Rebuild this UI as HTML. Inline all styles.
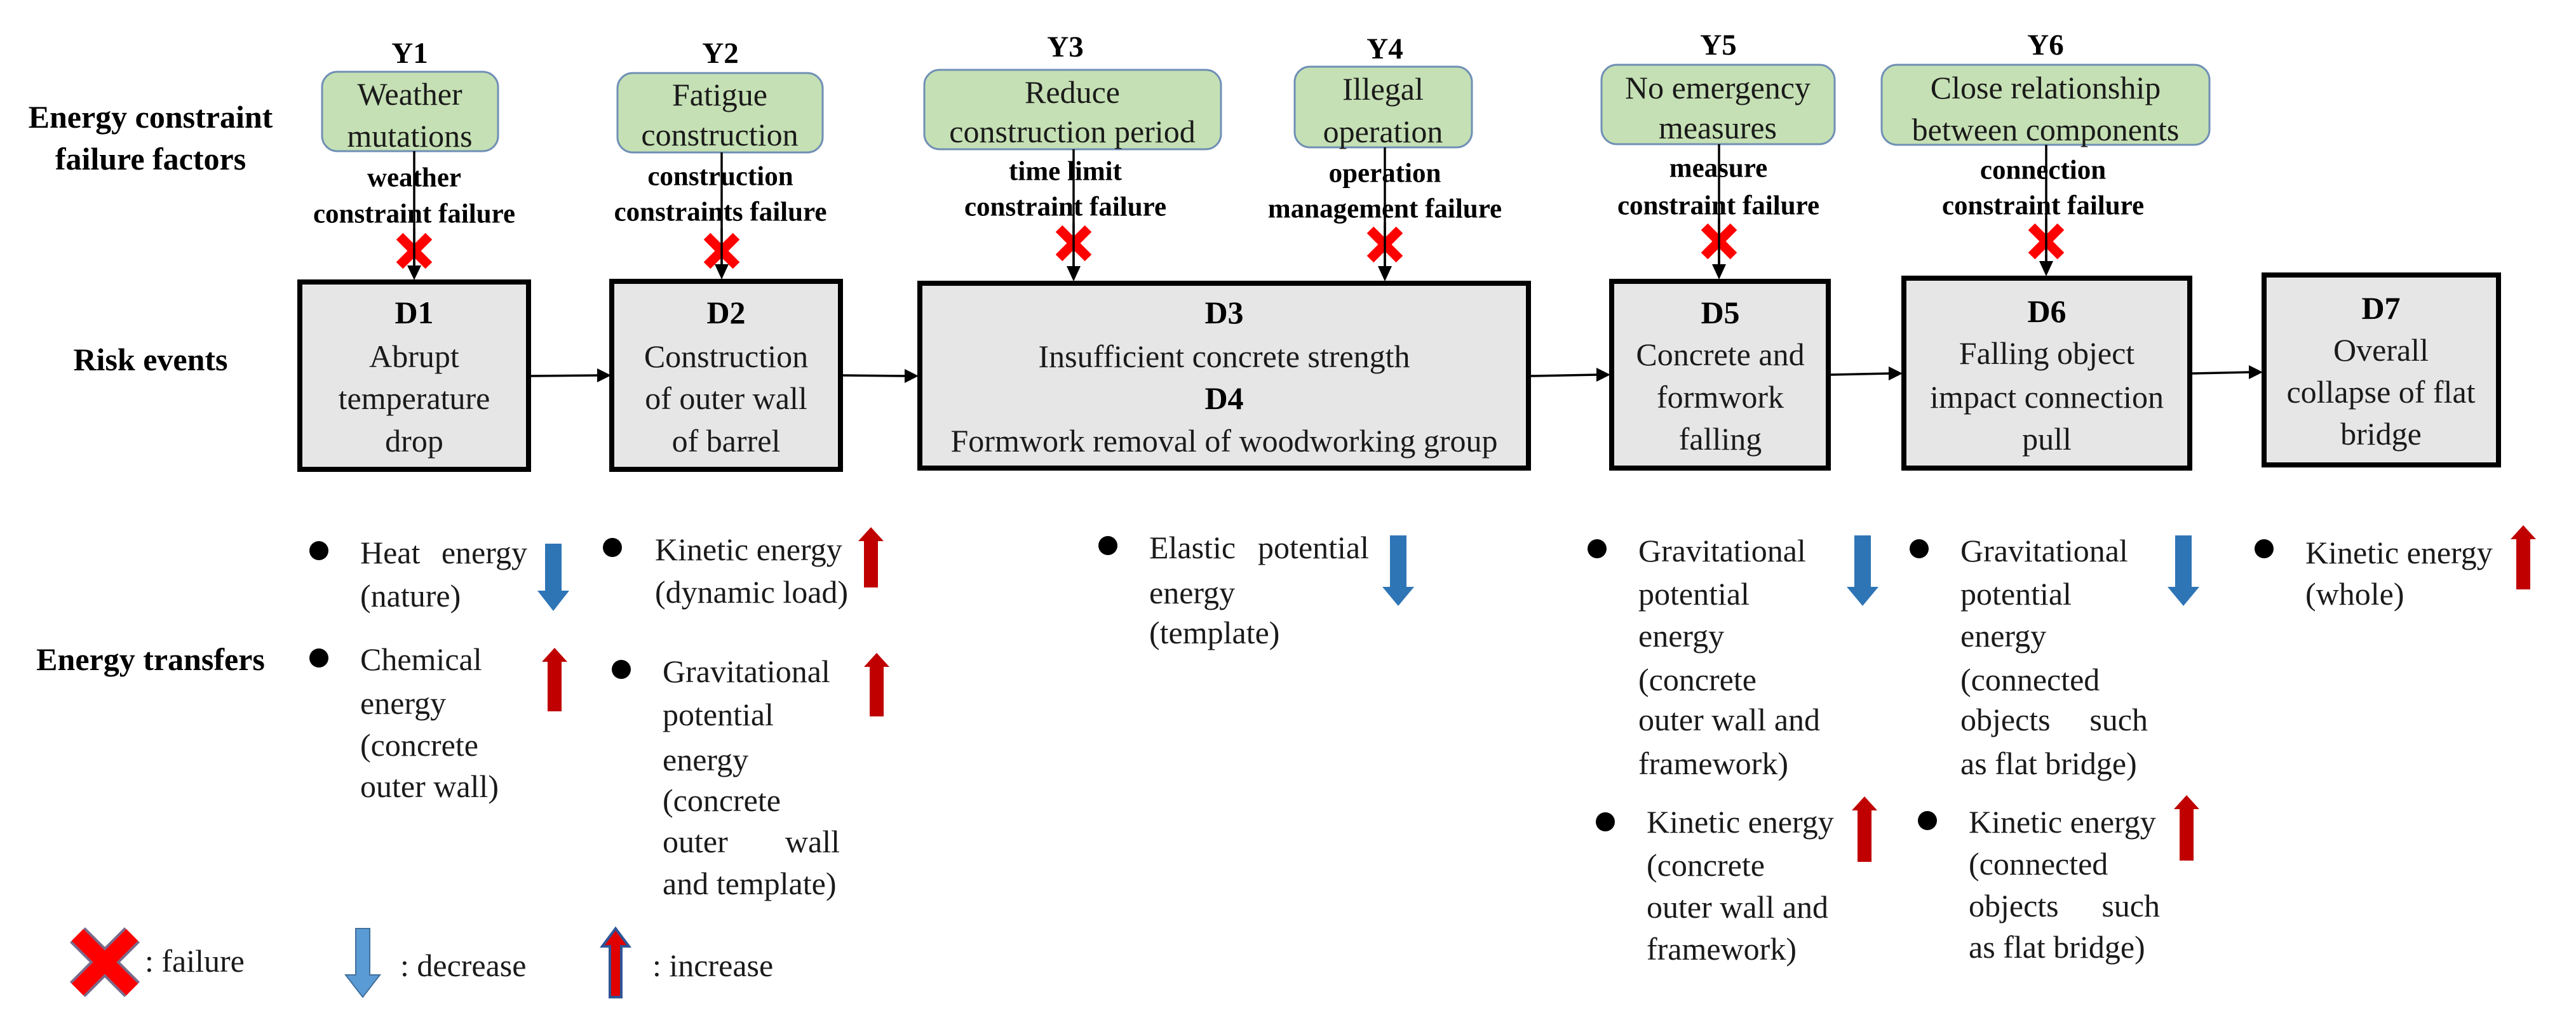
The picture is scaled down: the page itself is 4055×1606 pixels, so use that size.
<!DOCTYPE html>
<html><head><meta charset="utf-8"><style>
html,body{margin:0;padding:0;background:#fff;}
svg{display:block;}
.t{font-family:"Liberation Serif",serif;font-size:50px;fill:#1a1a1a;dominant-baseline:central;}
.c{text-anchor:middle;}
.b{font-family:"Liberation Serif",serif;font-weight:bold;fill:#000;dominant-baseline:central;}
.lab{font-size:50px;}
.al{font-size:43px;text-anchor:middle;}
.y{font-size:47px;text-anchor:middle;}
.g{fill:#c5e0b4;stroke:#6f8fb5;stroke-width:3;}
.d{fill:#e6e6e6;stroke:#000;stroke-width:8;}
.ln{stroke:#000;stroke-width:3.5;fill:none;}
.xr{stroke:#ff0000;stroke-width:15;}
.blue{fill:#2e75b6;}
.red{fill:#c00000;}
</style></head><body>
<svg width="4055" height="1606" viewBox="0 0 4055 1606" xmlns="http://www.w3.org/2000/svg">
<defs>
<marker id="ah" markerWidth="10" markerHeight="10" refX="9" refY="5" orient="auto" markerUnits="userSpaceOnUse" viewBox="0 0 10 10">
</marker>
</defs>

<!-- left labels -->
<text class="b lab c" x="237" y="184">Energy constraint</text>
<text class="b lab c" x="237" y="250">failure factors</text>
<text class="b lab c" x="237" y="566">Risk events</text>
<text class="b lab c" x="237" y="1038">Energy transfers</text>

<!-- Y labels -->
<text class="b y" x="645" y="84">Y1</text>
<text class="b y" x="1134" y="84">Y2</text>
<text class="b y" x="1677" y="74">Y3</text>
<text class="b y" x="2180" y="77">Y4</text>
<text class="b y" x="2705" y="71">Y5</text>
<text class="b y" x="3220" y="71">Y6</text>

<!-- green boxes -->
<rect class="g" x="507" y="113" width="277" height="125" rx="24"/>
<rect class="g" x="972" y="115" width="323" height="125" rx="24"/>
<rect class="g" x="1455" y="110" width="467" height="125" rx="24"/>
<rect class="g" x="2038" y="105" width="279" height="127" rx="24"/>
<rect class="g" x="2521" y="102" width="367" height="125" rx="24"/>
<rect class="g" x="2962" y="102" width="516" height="126" rx="24"/>
<g class="t c" style="fill:#333">
<text class="t c" x="645" y="148">Weather</text>
<text class="t c" x="645" y="214">mutations</text>
<text class="t c" x="1133" y="149">Fatigue</text>
<text class="t c" x="1133" y="212">construction</text>
<text class="t c" x="1688" y="145">Reduce</text>
<text class="t c" x="1688" y="207">construction  period</text>
<text class="t c" x="2177" y="140">Illegal</text>
<text class="t c" x="2177" y="207">operation</text>
<text class="t c" x="2704" y="138">No emergency</text>
<text class="t c" x="2704" y="201">measures</text>
<text class="t c" x="3220" y="138">Close relationship</text>
<text class="t c" x="3220" y="204">between  components</text>
</g>

<!-- vertical arrows -->
<g>
<line class="ln" x1="652" y1="238" x2="652" y2="420"/><polygon points="641,418 663,418 652,441"/>
<line class="ln" x1="1136" y1="240" x2="1136" y2="418"/><polygon points="1125,416 1147,416 1136,440"/>
<line class="ln" x1="1690" y1="235" x2="1690" y2="420"/><polygon points="1679,419 1701,419 1690,443"/>
<line class="ln" x1="2180" y1="232" x2="2180" y2="420"/><polygon points="2169,419 2191,419 2180,443"/>
<line class="ln" x1="2706" y1="227" x2="2706" y2="418"/><polygon points="2695,416 2717,416 2706,440"/>
<line class="ln" x1="3221" y1="228" x2="3221" y2="413"/><polygon points="3210,411 3232,411 3221,435"/>
</g>

<!-- arrow labels -->
<text class="b al" x="652" y="280">weather</text>
<text class="b al" x="652" y="337">constraint failure</text>
<text class="b al" x="1134" y="278">construction</text>
<text class="b al" x="1134" y="334">constraints failure</text>
<text class="b al" x="1677" y="270">time limit</text>
<text class="b al" x="1677" y="326">constraint failure</text>
<text class="b al" x="2180" y="273">operation</text>
<text class="b al" x="2180" y="329">management failure</text>
<text class="b al" x="2705" y="265">measure</text>
<text class="b al" x="2705" y="324">constraint failure</text>
<text class="b al" x="3216" y="268">connection</text>
<text class="b al" x="3216" y="324">constraint failure</text>

<!-- red X marks -->
<g class="xr">
<path d="M629,372 L675,418 M675,372 L629,418"/>
<path d="M1113,372 L1159,418 M1159,372 L1113,418"/>
<path d="M1667,360 L1713,406 M1713,360 L1667,406"/>
<path d="M2157,362 L2203,408 M2203,362 L2157,408"/>
<path d="M2683,357 L2729,403 M2729,357 L2683,403"/>
<path d="M3198,357 L3244,403 M3244,357 L3198,403"/>
</g>
<!-- redraw lines over X -->
<line class="ln" x1="652" y1="360" x2="652" y2="420"/>
<line class="ln" x1="1136" y1="360" x2="1136" y2="418"/>
<line class="ln" x1="1690" y1="350" x2="1690" y2="420"/>
<line class="ln" x1="2180" y1="350" x2="2180" y2="420"/>
<line class="ln" x1="2706" y1="345" x2="2706" y2="418"/>
<line class="ln" x1="3221" y1="345" x2="3221" y2="413"/>

<!-- D boxes -->
<rect class="d" x="472" y="444" width="360" height="295"/>
<rect class="d" x="963" y="443" width="360" height="296"/>
<rect class="d" x="1448" y="446" width="958" height="291"/>
<rect class="d" x="2537" y="443" width="341" height="294"/>
<rect class="d" x="2997" y="438" width="450" height="299"/>
<rect class="d" x="3564" y="433" width="369" height="299"/>

<text class="b c" style="font-size:50px" x="652" y="492">D1</text>
<text class="t c" x="652" y="561">Abrupt</text>
<text class="t c" x="652" y="627">temperature</text>
<text class="t c" x="652" y="694">drop</text>

<text class="b c" style="font-size:50px" x="1143" y="492">D2</text>
<text class="t c" x="1143" y="561">Construction</text>
<text class="t c" x="1143" y="627">of outer wall</text>
<text class="t c" x="1143" y="694">of barrel</text>

<text class="b c" style="font-size:50px" x="1927" y="492">D3</text>
<text class="t c" x="1927" y="561">Insufficient  concrete  strength</text>
<text class="b c" style="font-size:50px" x="1927" y="627">D4</text>
<text class="t c" x="1927" y="694">Formwork  removal  of woodworking  group</text>

<text class="b c" style="font-size:50px" x="2708" y="492">D5</text>
<text class="t c" x="2708" y="558">Concrete  and</text>
<text class="t c" x="2708" y="625">formwork</text>
<text class="t c" x="2708" y="691">falling</text>

<text class="b c" style="font-size:50px" x="3222" y="490">D6</text>
<text class="t c" x="3222" y="556">Falling object</text>
<text class="t c" x="3222" y="625">impact  connection</text>
<text class="t c" x="3222" y="691">pull</text>

<text class="b c" style="font-size:50px" x="3748" y="485">D7</text>
<text class="t c" x="3748" y="551">Overall</text>
<text class="t c" x="3748" y="617">collapse  of flat</text>
<text class="t c" x="3748" y="683">bridge</text>

<!-- horizontal arrows -->
<line class="ln" x1="836" y1="592" x2="942" y2="591"/><polygon points="940,580 962,591 940,602"/>
<line class="ln" x1="1327" y1="591" x2="1426" y2="592"/><polygon points="1424,581 1446,592 1424,603"/>
<line class="ln" x1="2410" y1="592" x2="2515" y2="590"/><polygon points="2513,579 2535,590 2513,601"/>
<line class="ln" x1="2882" y1="590" x2="2975" y2="588"/><polygon points="2973,577 2995,588 2973,599"/>
<line class="ln" x1="3451" y1="588" x2="3542" y2="586"/><polygon points="3540,575 3562,586 3540,597"/>

<!-- energy transfer bullets -->
<g fill="#000">
<circle cx="502" cy="867" r="15"/>
<circle cx="502" cy="1036" r="15"/>
<circle cx="964" cy="862" r="15"/>
<circle cx="978" cy="1054" r="15"/>
<circle cx="1744" cy="859" r="15"/>
<circle cx="2514" cy="864" r="15"/>
<circle cx="2527" cy="1294" r="15"/>
<circle cx="3021" cy="864" r="15"/>
<circle cx="3034" cy="1292" r="15"/>
<circle cx="3564" cy="864" r="15"/>
</g>

<text class="t" x="567" y="870">Heat</text><text class="t" x="830" y="870" text-anchor="end">energy</text>
<text class="t" x="567" y="938">(nature)</text>
<text class="t" x="567" y="1038">Chemical</text>
<text class="t" x="567" y="1107">energy</text>
<text class="t" x="567" y="1173">(concrete</text>
<text class="t" x="567" y="1238">outer wall)</text>

<text class="t" x="1031" y="865">Kinetic energy</text>
<text class="t" x="1031" y="932">(dynamic  load)</text>
<text class="t" x="1043" y="1057">Gravitational</text>
<text class="t" x="1043" y="1125">potential</text>
<text class="t" x="1043" y="1196">energy</text>
<text class="t" x="1043" y="1260">(concrete</text>
<text class="t" x="1043" y="1325">outer</text><text class="t" x="1322" y="1325" text-anchor="end">wall</text>
<text class="t" x="1043" y="1391">and template)</text>

<text class="t" x="1809" y="862">Elastic</text><text class="t" x="2155" y="862" text-anchor="end">potential</text>
<text class="t" x="1809" y="933">energy</text>
<text class="t" x="1809" y="996">(template)</text>

<text class="t" x="2579" y="867">Gravitational</text>
<text class="t" x="2579" y="935">potential</text>
<text class="t" x="2579" y="1001">energy</text>
<text class="t" x="2579" y="1070">(concrete</text>
<text class="t" x="2579" y="1133">outer wall and</text>
<text class="t" x="2579" y="1202">framework)</text>
<text class="t" x="2592" y="1294">Kinetic energy</text>
<text class="t" x="2592" y="1362">(concrete</text>
<text class="t" x="2592" y="1428">outer wall and</text>
<text class="t" x="2592" y="1494">framework)</text>

<text class="t" x="3086" y="867">Gravitational</text>
<text class="t" x="3086" y="935">potential</text>
<text class="t" x="3086" y="1001">energy</text>
<text class="t" x="3086" y="1070">(connected</text>
<text class="t" x="3086" y="1133">objects</text><text class="t" x="3381" y="1133" text-anchor="end">such</text>
<text class="t" x="3086" y="1202">as flat bridge)</text>
<text class="t" x="3099" y="1294">Kinetic energy</text>
<text class="t" x="3099" y="1360">(connected</text>
<text class="t" x="3099" y="1426">objects</text><text class="t" x="3400" y="1426" text-anchor="end">such</text>
<text class="t" x="3099" y="1491">as flat bridge)</text>

<text class="t" x="3629" y="870">Kinetic energy</text>
<text class="t" x="3629" y="935">(whole)</text>

<!-- blue down arrows -->
<g class="blue">
<polygon points="858,856 884,856 884,930 896,930 871,962 846,930 858,930"/>
<polygon points="2188,843 2214,843 2214,924 2226,924 2201,954 2176,924 2188,924"/>
<polygon points="2919,843 2945,843 2945,924 2957,924 2932,954 2907,924 2919,924"/>
<polygon points="3424,843 3450,843 3450,924 3462,924 3437,954 3412,924 3424,924"/>
</g>
<!-- red up arrows -->
<g class="red">
<polygon points="1371,830 1391,852 1382,852 1382,925 1360,925 1360,852 1351,852"/>
<polygon points="873,1020 893,1042 884,1042 884,1120 862,1120 862,1042 853,1042"/>
<polygon points="1380,1028 1400,1050 1391,1050 1391,1128 1369,1128 1369,1050 1360,1050"/>
<polygon points="2935,1254 2955,1276 2946,1276 2946,1357 2924,1357 2924,1276 2915,1276"/>
<polygon points="3442,1252 3462,1274 3453,1274 3453,1355 3431,1355 3431,1274 3422,1274"/>
<polygon points="3972,827 3992,849 3983,849 3983,928 3961,928 3961,849 3952,849"/>
</g>

<!-- legend -->
<path d="M122,1472 L208,1558 M208,1472 L122,1558" stroke="#7a6a8a" stroke-width="34"/>
<path d="M122,1472 L208,1558 M208,1472 L122,1558" stroke="#ff0000" stroke-width="26"/>
<text class="t" x="228" y="1513">: failure</text>
<polygon points="560,1462 582,1462 582,1535 598,1535 571,1570 544,1535 560,1535" fill="#5b9bd5" stroke="#41719c" stroke-width="2"/>
<text class="t" x="630" y="1520">: decrease</text>
<polygon points="969,1462 990,1490 978,1490 978,1570 960,1570 960,1490 948,1490" fill="#e00000" stroke="#2f5597" stroke-width="4"/>
<text class="t" x="1027" y="1520">: increase</text>
</svg>
</body></html>
